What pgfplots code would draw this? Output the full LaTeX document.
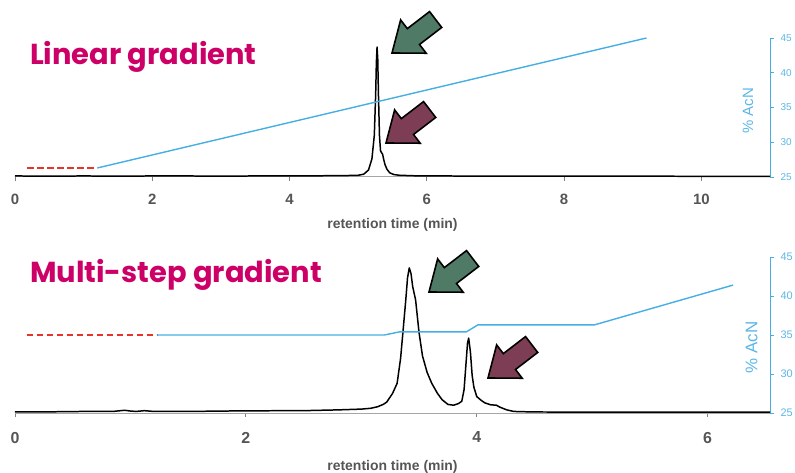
\documentclass[border=0pt]{standalone}
\usepackage{pgfplots}
\pgfplotsset{compat=1.18}
\usepackage{fontspec}
\setmainfont{Liberation Sans}
\newfontfamily\titlefont{Poppins}
\definecolor{acn}{HTML}{45AEE3}
\definecolor{acntxt}{HTML}{5DB6E6}
\definecolor{labgray}{HTML}{555555}
\definecolor{ttl}{HTML}{CC0066}
\definecolor{arrgreen}{HTML}{4E7A66}
\definecolor{arrred}{HTML}{7D3E55}
\definecolor{dashred}{HTML}{E8332A}
\newcommand{\bigarrow}[4]{%
  \begin{scope}[shift={(#1,#2)}, rotate=#3]
    \draw[fill=#4, line width=1.6pt, line join=miter]
      (0,0) -- (-27bp,21bp) -- (-27bp,10bp) -- (-55bp,10bp) -- (-55bp,-10bp)
      -- (-27bp,-10bp) -- (-27bp,-21bp) -- cycle;
  \end{scope}}
\pgfplotsset{
  chrom/.style={
    scale only axis, width=755bp, xmin=0, ymin=25, ymax=45,
    axis x line*=bottom, axis y line*=right,
    x axis line style={draw=gray!70, line width=1pt, -},
    y axis line style={draw=acn, line width=0.8pt, -},
    ytick={25,30,...,45},
    /pgf/number format/assume math mode=true,
    yticklabel style={text=acntxt, xshift=3bp},
    xticklabel style={text=labgray, yshift=-10bp},
    xlabel style={text=labgray},
    xtick style={draw=gray, line width=0.8pt},
    ytick style={draw=acn, line width=0.8pt},
    tick align=outside, major tick length=4bp,
    xlabel={retention time (min)},
    clip=false,
  },
  grad/.style={draw=acn, line width=1.4pt},
  dash/.style={draw=dashred, line width=1.8pt, dash pattern=on 6.5bp off 3.5bp},
  sig/.style={draw=black, line width=1.5pt, line join=round},
}
\begin{document}
\begin{tikzpicture}
\useasboundingbox (0,0) rectangle (795bp,473bp);
% ---------------- top panel
\begin{axis}[chrom, at={(15bp,296bp)}, anchor=south west, height=139bp,
  xmax=11.0, xtick={0,2,...,10},
  xticklabel style={font=\bfseries\fontsize{15}{18}\selectfont},
  xlabel style={font=\bfseries\fontsize{14}{17}\selectfont, yshift=-6bp},
  yticklabel style={font=\fontsize{10}{12}\selectfont}]
\addplot[sig] coordinates {
(0,25.15) (0.5,25.12) (1,25.15) (1.5,25.12) (2,25.15) (2.5,25.15) (3,25.12)
(3.5,25.15) (4,25.15) (4.5,25.18) (4.8,25.2) (5.0,25.25) (5.08,25.4)
(5.15,26.0) (5.2,27.6) (5.235,31) (5.255,37) (5.265,41.5) (5.275,43.7)
(5.285,42) (5.295,37) (5.31,31) (5.325,28.8) (5.34,28.5) (5.355,28.3)
(5.37,27.6) (5.39,26.8) (5.42,26.1) (5.46,25.6) (5.52,25.35) (5.6,25.25)
(5.8,25.18) (6.2,25.15) (7,25.12) (8,25.12) (9,25.12) (10,25.1) (11,25.1)};
\addplot[dash] coordinates {(0.18,26.3) (1.2,26.3)};
\addplot[grad] coordinates {(1.2,26.3) (9.2,45)};
\node[rotate=90, text=acntxt, font=\fontsize{15}{18}\selectfont] at (axis cs:10.68,34.5) {\% AcN};
\end{axis}
% ---------------- bottom panel
\begin{axis}[chrom, at={(15bp,60bp)}, anchor=south west, height=156bp,
  xmax=6.54, xtick={0,2,4,6},
  xticklabel style={font=\bfseries\fontsize{16}{19}\selectfont, yshift=-1.5bp},
  xlabel style={font=\bfseries\fontsize{14}{17}\selectfont, yshift=-10bp},
  yticklabel style={font=\fontsize{11}{13}\selectfont}]
\addplot[sig] coordinates {
(0,25.15) (0.3,25.15) (0.6,25.2) (0.85,25.2) (0.95,25.35) (1.0,25.25)
(1.05,25.2) (1.12,25.3) (1.2,25.2) (1.5,25.2) (2.0,25.28) (2.5,25.3)
(2.8,25.4) (3.0,25.5) (3.08,25.6) (3.14,25.8) (3.19,26.1) (3.22,26.4)
(3.27,27.5) (3.31,28.8) (3.34,32) (3.36,35.3) (3.385,39.5) (3.40,42.3)
(3.415,43.6) (3.43,42.9) (3.445,41.2) (3.47,39.5) (3.50,35.3) (3.53,32.3)
(3.57,30.2) (3.61,28.8) (3.66,27.5) (3.70,26.7) (3.75,26.1) (3.80,26.0)
(3.84,26.2) (3.87,26.5) (3.89,28.0) (3.905,31) (3.92,34.0) (3.93,34.6)
(3.945,32.8) (3.96,29.8) (3.975,28.3) (4.0,27.1) (4.04,26.6) (4.07,26.3)
(4.12,26.05) (4.17,26.0) (4.2,25.75) (4.26,25.4) (4.32,25.2) (4.5,25.13)
(5,25.12) (5.5,25.1) (6,25.1) (6.54,25.1)};
\addplot[dash] coordinates {(0.1,35) (1.23,35)};
\addplot[grad] coordinates {(1.23,35) (3.2,35) (3.33,35.4) (3.91,35.4)
(4.01,36.3) (5.02,36.3) (6.22,41.4)};
\node[rotate=90, text=acntxt, font=\fontsize{17}{20}\selectfont] at (axis cs:6.38,33.4) {\% AcN};
\end{axis}
% ---------------- titles
\node[anchor=base west, inner sep=0pt, text=ttl, font=\titlefont\bfseries\fontsize{29}{33}\selectfont] at (30bp,408bp) {Linear gradient};
\node[anchor=base west, inner sep=0pt, text=ttl, font=\titlefont\bfseries\fontsize{29}{33}\selectfont] at (30bp,190bp) {Multi-step gradient};
% ---------------- arrows
\bigarrow{392bp}{420bp}{217.5}{arrgreen}
\bigarrow{386bp}{330bp}{217.5}{arrred}
\bigarrow{429bp}{181bp}{217.5}{arrgreen}
\bigarrow{488bp}{95bp}{217.5}{arrred}
\end{tikzpicture}
\end{document}
